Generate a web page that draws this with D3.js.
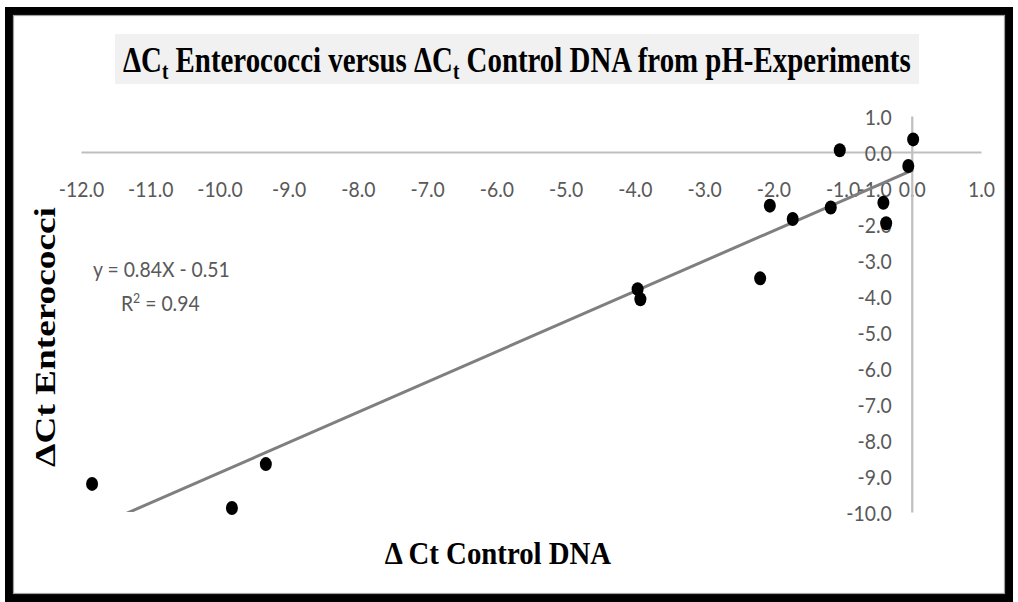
<!DOCTYPE html>
<html>
<head>
<meta charset="utf-8">
<script src="https://cdn.jsdelivr.net/npm/d3@7"></script>
<style>
	body { margin: 0; background: #fff; }
	.tick-label { font-family: Lato, "Open Sans", sans-serif; font-size: 22px; fill: #595959; }
	.bold-serif { font-family: "Liberation Serif", "Times New Roman", serif; font-weight: bold; fill: #000; }
</style>
</head>
<body>
<svg id="chart" width="1018" height="602"></svg>
<script>

// values
const control_dna = [-11.84, -9.82, -9.33, -3.96, -3.92, -2.19, -2.05, -1.72, -1.17, -1.04, -0.41, -0.37, -0.05, 0.02];
const enterococci = [-9.22, -9.89, -8.67, -3.81, -4.09, -3.51, -1.49, -1.86, -1.54, 0.05, -1.41, -1.98, -0.39, 0.35];

const x_tick_values = [-12, -11, -10, -9, -8, -7, -6, -5, -4, -3, -2, -1, 0, 1];
const y_tick_values = [-10, -9, -8, -7, -6, -5, -4, -3, -2, -1, 0, 1];

const trend_slope = 0.84;
const trend_intercept = -0.51;
const equation_lines = ["y = 0.84X - 0.51", "0.94"];

const sans_squeeze = 0.88;

const svg = d3.select("#chart");

// squeeze a text horizontally around x0 so that it is `width` wide
function squeeze(text, width, x0) {
	const box = text.node().getBBox();
	const k = width / box.width;
	text.attr("transform", "translate(" + x0 + ",0) scale(" + k + ",1) translate(" + (-x0) + ",0)");
}

// excel style labels with a plain hyphen
const fmt = d => d.toFixed(1);

// frame
svg.append("rect")
	.attr("x", 9).attr("y", 11)
	.attr("width", 1000).attr("height", 587)
	.style("fill", "#fff")
	.style("stroke", "#000")
	.style("stroke-width", 8);
svg.append("rect")
	.attr("x", 13.5).attr("y", 15.5)
	.attr("width", 991).attr("height", 578)
	.style("fill", "none")
	.style("stroke", "#a0a0a0")
	.style("stroke-width", 1.2);

// scales
const x = d3.scaleLinear().domain([-12, 1]).range([81, 981]);
const y = d3.scaleLinear().domain([-10, 1]).range([512, 116]);

// title
svg.append("rect")
	.attr("x", 115).attr("y", 34)
	.attr("width", 804).attr("height", 50)
	.style("fill", "#f1f1f1");

const title = svg.append("text")
	.attr("class", "bold-serif")
	.attr("x", 123).attr("y", 72)
	.style("font-size", "36px");
title.append("tspan").text("\u0394C");
title.append("tspan").attr("dy", 7).style("font-size", "24px").text("t");
title.append("tspan").attr("dy", -7).text(" Enterococci versus \u0394C");
title.append("tspan").attr("dy", 7).style("font-size", "24px").text("t");
title.append("tspan").attr("dy", -7).text(" Control DNA from pH-Experiments");
squeeze(title, 788, 123);

// axes
const x_axis = d3.axisBottom(x)
	.tickValues(x_tick_values)
	.tickFormat(fmt)
	.tickSize(0);

const y_axis = d3.axisLeft(y)
	.tickValues(y_tick_values)
	.tickFormat(fmt)
	.tickSize(0);

const x_axis_g = svg.append("g")
	.attr("transform", "translate(0," + y(0) + ")")
	.call(x_axis);
x_axis_g.selectAll(".tick text")
	.attr("class", "tick-label")
	.attr("y", 45)
	.attr("dy", null)
	.attr("transform", "scale(" + sans_squeeze + ",1)");

const y_axis_g = svg.append("g")
	.attr("transform", "translate(" + x(0) + ",0)")
	.call(y_axis);
y_axis_g.selectAll(".tick text")
	.attr("class", "tick-label")
	.attr("x", -20 / sans_squeeze)
	.attr("y", 8)
	.attr("dy", null)
	.attr("transform", "scale(" + sans_squeeze + ",1)");

svg.selectAll(".domain")
	.style("stroke", "#bfbfbf")
	.style("stroke-width", 2.2);
svg.selectAll(".tick text").attr("fill", "#595959");
svg.selectAll("g").attr("font-family", null).attr("font-size", null);

// trendline, clipped to plot area
svg.append("defs").append("clipPath")
	.attr("id", "plot-clip")
	.append("rect")
	.attr("x", x.range()[0]).attr("y", y.range()[1])
	.attr("width", x.range()[1] - x.range()[0])
	.attr("height", y.range()[0] - y.range()[1]);

const trend_x = d3.extent(control_dna);
svg.append("line")
	.attr("clip-path", "url(#plot-clip)")
	.attr("x1", x(trend_x[0])).attr("y1", y(trend_slope * trend_x[0] + trend_intercept))
	.attr("x2", x(trend_x[1])).attr("y2", y(trend_slope * trend_x[1] + trend_intercept))
	.style("stroke", "#7f7f7f")
	.style("stroke-width", 3);

// points
svg.append("g").selectAll("ellipse")
	.data(control_dna.map((d, i) => [d, enterococci[i]]))
	.enter()
	.append("ellipse")
		.attr("cx", d => x(d[0]))
		.attr("cy", d => y(d[1]))
		.attr("rx", 6)
		.attr("ry", 7)
		.style("fill", "#000");

// equation
svg.append("text")
	.attr("class", "tick-label")
	.attr("x", 93 / sans_squeeze).attr("y", 277)
	.attr("transform", "scale(" + sans_squeeze + ",1)")
	.text(equation_lines[0]);

const r2 = svg.append("text")
	.attr("class", "tick-label")
	.attr("x", 121 / sans_squeeze).attr("y", 311)
	.attr("transform", "scale(" + sans_squeeze + ",1)");
r2.append("tspan").text("R");
r2.append("tspan").attr("dy", -8).style("font-size", "14px").text("2");
r2.append("tspan").attr("dy", 8).text(" = " + equation_lines[1]);

// axis titles
const x_title = svg.append("text")
	.attr("class", "bold-serif")
	.attr("x", 498).attr("y", 564)
	.attr("text-anchor", "middle")
	.style("font-size", "31px")
	.text("\u0394 Ct Control DNA");
squeeze(x_title, 227, 498);

const y_title_g = svg.append("g")
	.attr("transform", "translate(55,337) rotate(-90)");
const y_title = y_title_g.append("text")
	.attr("class", "bold-serif")
	.attr("x", 0).attr("y", 0)
	.attr("text-anchor", "middle")
	.style("font-size", "29px")
	.text("\u0394Ct Enterococci");
squeeze(y_title, 260, 0);

</script>
</body>
</html>
